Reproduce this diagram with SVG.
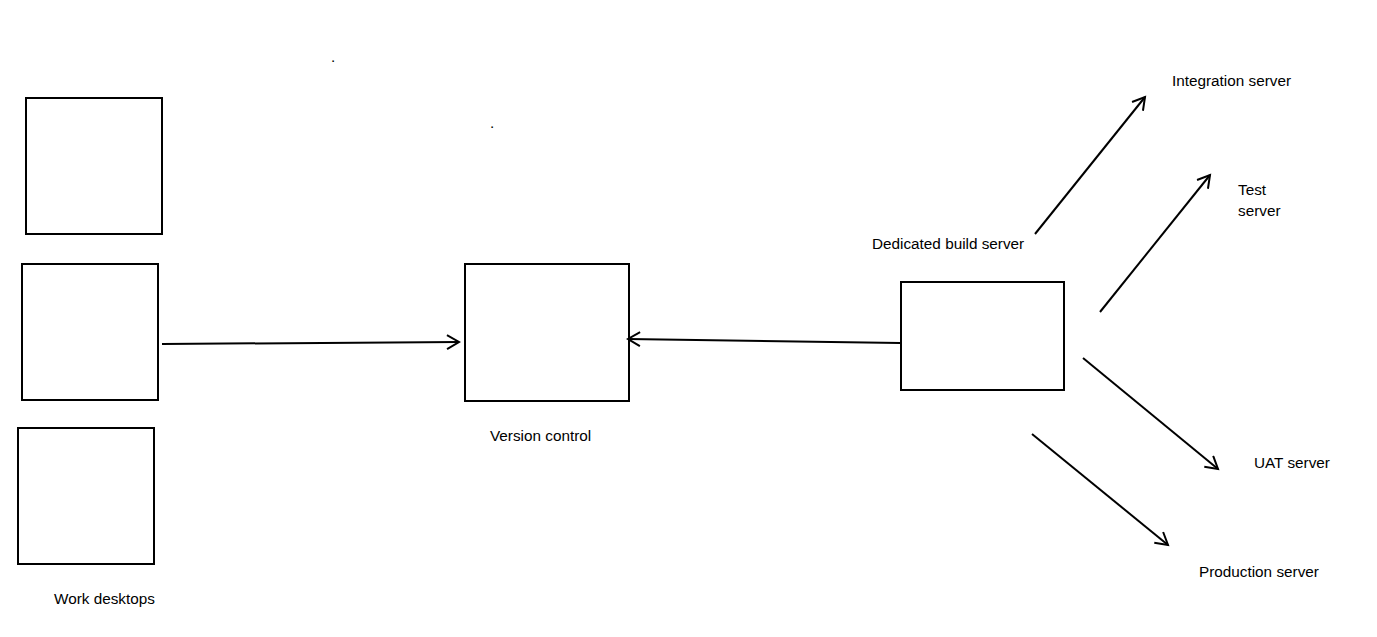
<svg xmlns="http://www.w3.org/2000/svg" width="1377" height="637" viewBox="0 0 1377 637">
<style>
.box{fill:#fff;stroke:#000;stroke-width:2}
.ln{fill:none;stroke:#000;stroke-width:2;marker-end:url(#ah)}
text{font-family:"Liberation Sans",Arial,sans-serif;font-size:15.3px;fill:#000}
</style>
<defs>
<marker id="ah" markerWidth="16" markerHeight="16" refX="13" refY="8" orient="auto" markerUnits="userSpaceOnUse">
<path d="M1,1 L13,8 L1,15" fill="none" stroke="#000" stroke-width="2"/>
</marker>
</defs>
<rect width="1377" height="637" fill="#fff"/>
<text x="331" y="62">.</text>
<text x="490" y="128">.</text>
<g id="desktop1"><rect class="box" x="26" y="98" width="136" height="136"/></g>
<g id="desktop2"><rect class="box" x="22" y="264" width="136" height="136"/></g>
<g id="desktop3"><rect class="box" x="18" y="428" width="136" height="136"/></g>
<g id="desktops-label"><text x="54" y="604">Work desktops</text></g>
<g id="version-control"><rect class="box" x="465" y="264" width="164" height="137"/><text x="490" y="441">Version control</text></g>
<g id="build-server"><rect class="box" x="901" y="282" width="163" height="108"/><text x="872" y="249">Dedicated build server</text></g>
<g id="integration"><text x="1172" y="86">Integration server</text></g>
<g id="test"><text x="1238" y="195">Test</text><text x="1238" y="216">server</text></g>
<g id="uat"><text x="1254" y="468">UAT server</text></g>
<g id="production"><text x="1199" y="577">Production server</text></g>
<g id="connectors">
<path class="ln" d="M162,344 L459,342"/>
<path class="ln" d="M900,343 L628,339"/>
<path class="ln" d="M1035,234 L1145,97"/>
<path class="ln" d="M1100,312 L1210,175"/>
<path class="ln" d="M1083,358 L1218,469"/>
<path class="ln" d="M1032,434 L1168,545"/>
</g>
</svg>
